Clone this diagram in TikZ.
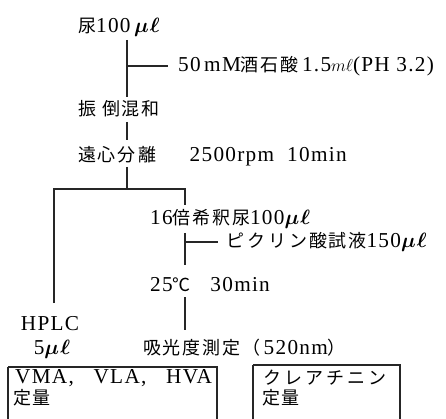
\documentclass[tikz,border=0pt]{standalone}
\usepackage{bm}
\usepackage{fontspec}
\setmainfont{Liberation Serif}[Scale=1.18,LetterSpace=6]
\newfontfamily\jp{Noto Sans CJK JP}[LetterSpace=10]
\newcommand\myul{{\fontsize{20}{22}\selectfont$\bm{\mu}\mkern1mu\bm{\ell}$}}
\newcommand\myml{{\fontsize{17}{19}\selectfont$m\ell$}}
\begin{document}
\begin{tikzpicture}[x=1pt,y=-1pt,
  txt/.style={anchor=west,inner sep=0pt,font=\fontsize{18}{20}\selectfont},
  ln/.style={line width=1.3pt,black!85},
  bx/.style={line width=1.4pt,black!85}]
\useasboundingbox (0,0) rectangle (446,419);
\clip (0,0) rectangle (446,419);
% texts
\node[txt] (n1) at (78,27) {{\jp 尿}100\,\myul};
\node[txt] (n2) at (178,66) {50\,mM{\jp 酒石酸}\,1.5\myml(PH 3.2)};
\node[txt] (n3) at (78,109) {{\jp 振\ 倒混和}};
\node[txt] (n4) at (78,156) {{\jp 遠心分\,離}\ \ \ \ \ 2500rpm\ \ 10min};
\node[txt] (n5) at (150,219) {16{\jp 倍希釈尿}100\myul};
\node[txt] (n6) at (226,242) {{\jp ピ\,ク\,リ\,ン酸試液}150\myul};
\node[txt] (n7) at (150,285) {25{\jp ℃}\ \ \ 30min};
\node[txt,anchor=center,text height=12pt,text depth=1pt] (n8) at (50,325) {HPLC};
\node[txt,anchor=center,text height=12pt,text depth=1pt] (n9) at (52,349) {5\myul};
\node[txt] (n10) at (143,348) {{\jp 吸光度測定（}\,520nm{\jp ）}};
% boxes
\draw[bx] (8,367) coordinate (b1a) -- (8,430) (8,367) -- (217,367) -- (217,430);
\draw[bx] (253,365) coordinate (b2a) -- (253,430) (253,365) -- (400,365) -- (400,430);
\node[txt] (t1) at (15,378) {VMA,\ \ \ VLA,\ \ \ HVA};
\node[txt] (t2) at (13,398) {{\jp 定量}};
\node[txt] (t3) at (263,378) {{\jp ク\,レ\,ア\,チ\,ニ\,ン}};
\node[txt] (t4) at (262,398) {{\jp 定量}};
% connectors
\coordinate (a1) at (127,40);
\coordinate (a2) at (127,97);
\coordinate (a3) at (127,66);
\coordinate (a4) at (168,66);
\draw[ln] (a1) -- (a2);
\draw[ln] (a3) -- (a4);
\coordinate (c1) at (127,122);
\coordinate (c2) at (127,140);
\draw[ln] (c1) -- (c2);
\coordinate (d1) at (127,167);
\coordinate (d2) at (127,189);
\coordinate (dl) at (54,189);
\coordinate (dr) at (185,189);
\coordinate (dl2) at (54,303);
\coordinate (dr2) at (185,205);
\draw[ln] (d1) -- (d2);
\draw[ln] (dl2) -- (dl) -- (dr) -- (dr2);
\coordinate (e1) at (185,233);
\coordinate (e2) at (185,265);
\coordinate (e3) at (185,242);
\coordinate (e4) at (218,242);
\draw[ln] (e1) -- (e2);
\draw[ln] (e3) -- (e4);
\coordinate (f1) at (185,297);
\coordinate (f2) at (185,330);
\draw[ln] (f1) -- (f2);
\end{tikzpicture}
\end{document}
